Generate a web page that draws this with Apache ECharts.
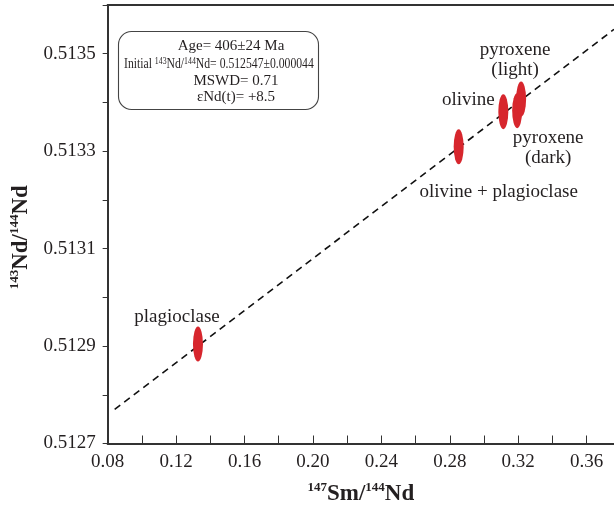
<!DOCTYPE html>
<html>
<head>
<meta charset="utf-8">
<script src="https://cdn.jsdelivr.net/npm/echarts@6/dist/echarts.min.js"></script>
<style>
  html, body { margin: 0; padding: 0; background: #fff; }
  #chart { width: 614px; height: 511px; }
</style>
</head>
<body>
<div id="chart"></div>
<script>
// Sm–Nd mineral isochron
const minerals   = ['plagioclase', 'olivine + plagioclase', 'olivine', 'pyroxene (dark)', 'pyroxene (light)'];
const labelTexts = ['plagioclase', 'olivine + plagioclase', 'olivine', 'pyroxene\n(dark)', 'pyroxene\n(light)'];
const smNd       = [0.1328, 0.2852, 0.3113, 0.3194, 0.3217];          // 147Sm/144Nd
const ndNd       = [0.512904, 0.513309, 0.513381, 0.513383, 0.513407]; // 143Nd/144Nd

// Isochron end points
const isoX = [0.0841, 0.376];
const isoY = [0.51277, 0.51355];

// Regression results
const ageText     = '406±24';
const initialText = '0.512547±0.000044';
const mswdText    = '0.71';
const epsText     = '+8.5';

const FONT = '"Liberation Serif", "Times New Roman", serif';
const INK = '#231f20';
const RED = '#d7262d';

// label placement around each ellipse (pixels)
const labelOffsets = {
  'plagioclase': [-21, -27],
  'olivine + plagioclase': [40, 45],
  'olivine': [-35, -12],
  'pyroxene (dark)': [31, 37],
  'pyroxene (light)': [-6, -39]
};

const chart = echarts.init(document.getElementById('chart'), null, { renderer: 'canvas' });

const scatterData = minerals.map((m, i) => ({
  name: m,
  value: [smNd[i], ndNd[i]],
  label: { formatter: labelTexts[i], offset: labelOffsets[m] }
}));

const nameRich = {
  sup: { fontSize: 13, fontWeight: 'bold', fontFamily: FONT, color: INK, verticalAlign: 'top', lineHeight: 14 },
  b:   { fontSize: 23, fontWeight: 'bold', fontFamily: FONT, color: INK, lineHeight: 26 }
};

// one line of the statistics box
function boxLine(text, x, y, align, sx) {
  return {
    type: 'text', z: 11, x: x, y: y, scaleX: sx,
    style: {
      text: text, x: 0, y: 0, align: align, verticalAlign: 'middle',
      font: '15px ' + FONT, fill: INK,
      rich: { s: { fontSize: 10, fontFamily: FONT, fill: INK, verticalAlign: 'top', lineHeight: 11 } }
    }
  };
}

chart.setOption({
  animation: false,
  backgroundColor: '#fff',
  grid: { left: 103, right: 0, top: 5, bottom: 59, containLabel: false },
  xAxis: [{
    type: 'value',
    min: 0.08, max: 0.376, interval: 0.02,
    name: '{sup|147}{b|Sm/}{sup|144}{b|Nd}',
    nameLocation: 'middle', nameGap: 38,
    nameTextStyle: { rich: nameRich },
    axisLine: { show: true, onZero: false, lineStyle: { color: '#333', width: 2 } },
    axisTick: { show: true, inside: true, length: 8, lineStyle: { color: '#333', width: 1 } },
    axisLabel: {
      show: true, margin: 9, color: INK, fontSize: 19, fontFamily: FONT,
      showMaxLabel: false,
      formatter: v => (Math.round(v * 100) % 4 === 0 ? v.toFixed(2) : '')
    },
    splitLine: { show: false }
  }, {
    type: 'value', position: 'top',
    min: 0.08, max: 0.376,
    axisLine: { show: true, onZero: false, lineStyle: { color: '#333', width: 2 } },
    axisTick: { show: false }, axisLabel: { show: false }, splitLine: { show: false }
  }],
  yAxis: {
    type: 'value',
    min: 0.5127, max: 0.5136, interval: 0.0001,
    name: '{sup|143}{b|Nd/}{sup|144}{b|Nd}',
    nameLocation: 'middle', nameGap: 72, nameRotate: 90,
    nameTextStyle: { rich: nameRich, padding: [0, 26, 0, 0] },
    axisLine: { show: true, onZero: false, lineStyle: { color: '#333', width: 2 } },
    axisTick: { show: true, inside: false, length: 5, lineStyle: { color: '#333', width: 1 } },
    axisLabel: {
      show: true, margin: 12, color: INK, fontSize: 19, fontFamily: FONT,
      formatter: v => (Math.round(v * 1e4) % 2 === 1 ? v.toFixed(4) : '')
    },
    splitLine: { show: false }
  },
  series: [{
    type: 'line',
    data: isoX.map((x, i) => [x, isoY[i]]),
    symbol: 'none',
    lineStyle: { color: '#111', width: 1.6, type: [7, 5] },
    z: 1,
    silent: true
  }, {
    type: 'scatter',
    data: scatterData,
    symbol: 'circle',
    symbolSize: [10, 35],
    itemStyle: { color: RED, opacity: 1 },
    label: {
      show: true, position: 'inside',
      color: INK, fontSize: 19, fontFamily: FONT, lineHeight: 20, align: 'center'
    },
    z: 3
  }],
  graphic: [{
    type: 'rect',
    shape: { x: 118.5, y: 31.5, width: 200, height: 78, r: 13 },
    style: { fill: '#fff', stroke: '#444', lineWidth: 1.1 },
    z: 10
  },
    boxLine('Age= ' + ageText + ' Ma', 231, 46, 'center', 1),
    boxLine('Initial {s|143}Nd/{s|144}Nd= ' + initialText, 124, 64, 'left', 0.78),
    boxLine('MSWD= ' + mswdText, 236, 81, 'center', 1),
    boxLine('εNd(t)= ' + epsText, 236, 97, 'center', 1)
  ]
});
</script>
</body>
</html>
